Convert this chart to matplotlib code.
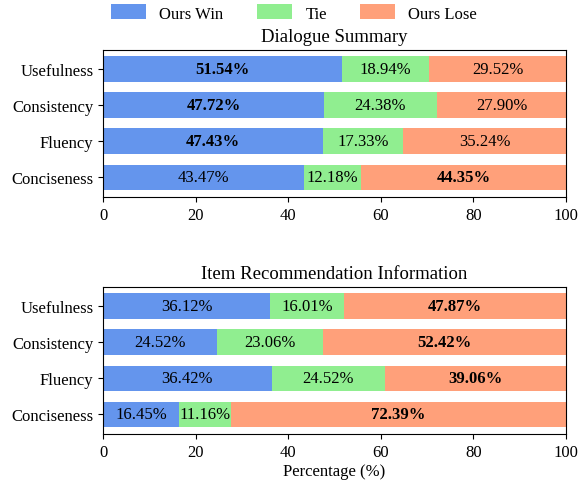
import matplotlib.pyplot as plt
import numpy as np

plt.rcParams['font.family'] = ['Liberation Serif', 'DejaVu Serif']

categories = ['Usefulness', 'Consistency', 'Fluency', 'Conciseness']
series_names = ['Ours Win', 'Tie', 'Ours Lose']
colors = ['#6495ED', '#90EE90', '#FFA07A']

# Dialogue Summary
ds_win = [51.54, 47.72, 47.43, 43.47]
ds_tie = [18.94, 24.38, 17.33, 12.18]
ds_lose = [29.52, 27.90, 35.24, 44.35]

# Item Recommendation Information
ir_win = [36.12, 24.52, 36.42, 16.45]
ir_tie = [16.01, 23.06, 24.52, 11.16]
ir_lose = [47.87, 52.42, 39.06, 72.39]

panels = [
    ('Dialogue Summary', [ds_win, ds_tie, ds_lose]),
    ('Item Recommendation Information', [ir_win, ir_tie, ir_lose]),
]

fig, axes = plt.subplots(2, 1, figsize=(5.86, 4.81), dpi=100)
fig.subplots_adjust(left=0.176, right=0.966, top=0.895, bottom=0.0956, hspace=0.607)

y = np.arange(len(categories))[::-1]
handles = []
for ax, (title, data) in zip(axes, panels):
    left = np.zeros(len(categories))
    vals = np.array(data)
    maxidx = vals.argmax(axis=0)
    for k, (name, col) in enumerate(zip(series_names, colors)):
        bars = ax.barh(y, vals[k], left=left, height=0.71, color=col, label=name)
        for i, b in enumerate(bars):
            ax.text(left[i] + vals[k][i] / 2, y[i], f'{vals[k][i]:.2f}%',
                    ha='center', va='center', fontsize=12,
                    fontweight='bold' if maxidx[i] == k else 'normal')
        left += vals[k]
        if ax is axes[0]:
            handles.append(bars)
    ax.set_yticks(y)
    ax.set_yticklabels(categories, fontsize=12)
    ax.set_xlim(0, 100)
    ax.tick_params(axis='x', labelsize=12)
    ax.set_title(title, fontsize=13.5, pad=6)

axes[1].set_xlabel('Percentage (%)', fontsize=12, labelpad=2)
fig.legend(handles, series_names, loc='upper center', ncol=3, frameon=False,
           fontsize=12, bbox_to_anchor=(0.502, 1.02), handlelength=2.1,
           handleheight=1.0, handletextpad=0.8, columnspacing=2.0)

plt.savefig('out.png')
